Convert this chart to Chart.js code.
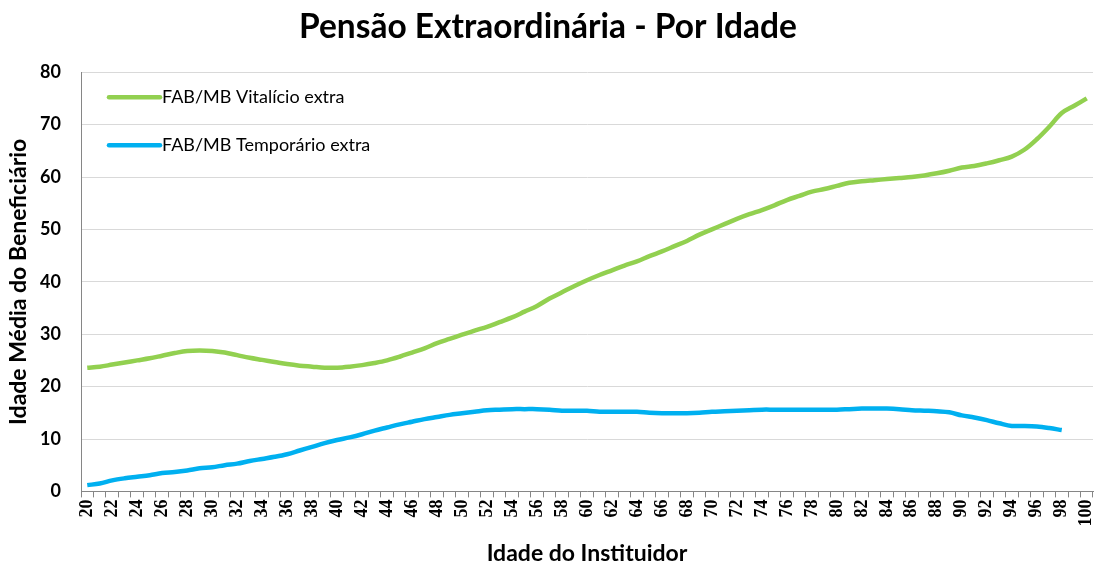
<!DOCTYPE html>
<html>
<head>
<meta charset="utf-8">
<script src="https://cdn.jsdelivr.net/npm/chart.js@4.4.0/dist/chart.umd.min.js"></script>
<style>
  html, body { margin: 0; padding: 0; background: #fff; }
  #wrap { width: 1095px; height: 567px; }
</style>
</head>
<body>
<div id="wrap"><canvas id="chart"></canvas></div>
<script>
// idade do instituidor, 20 a 100
const idades = [];
for (let a = 20; a <= 100; a++) idades.push(String(a));

const vitalicio = [
  23.6, 23.8, 24.2, 24.6, 25.0, 25.4, 25.9, 26.4, 26.8, 26.9,
  26.8, 26.5, 26.0, 25.5, 25.1, 24.7, 24.3, 24.0, 23.8, 23.6,
  23.6, 23.8, 24.1, 24.5, 25.0, 25.7, 26.5, 27.3, 28.3, 29.1,
  29.9, 30.7, 31.4, 32.3, 33.2, 34.3, 35.4, 36.8, 38.0, 39.2,
  40.3, 41.3, 42.2, 43.1, 43.9, 44.9, 45.8, 46.8, 47.8, 49.0,
  50.0, 51.0, 52.0, 52.9, 53.7, 54.6, 55.6, 56.4, 57.2, 57.7,
  58.3, 58.9, 59.2, 59.4, 59.6, 59.8, 60.0, 60.3, 60.7, 61.2,
  61.8, 62.1, 62.6, 63.2, 63.9, 65.2, 67.2, 69.6, 72.2, 73.6,
  75.0
];

const temporario = [
  1.2, 1.5, 2.1, 2.5, 2.8, 3.1, 3.5, 3.7, 4.0, 4.4,
  4.6, 5.0, 5.3, 5.8, 6.2, 6.6, 7.1, 7.8, 8.5, 9.2,
  9.8, 10.3, 10.9, 11.6, 12.2, 12.8, 13.3, 13.8, 14.2, 14.6,
  14.9, 15.2, 15.5, 15.6, 15.7, 15.7, 15.7, 15.6, 15.4, 15.4,
  15.4, 15.2, 15.2, 15.2, 15.2, 15.0, 14.9, 14.9, 14.9, 15.0,
  15.2, 15.3, 15.4, 15.5, 15.6, 15.6, 15.6, 15.6, 15.6, 15.6,
  15.6, 15.7, 15.8, 15.8, 15.8, 15.7, 15.5, 15.4, 15.3, 15.1,
  14.5, 14.1, 13.6, 13.0, 12.5, 12.5, 12.4, 12.1, 11.7, null,
  null
];

const fonte = 'Lato, "Noto Sans", sans-serif';
const fonteTicks = '"Liberation Serif", "DejaVu Serif", serif';

// legenda desenhada dentro da área do gráfico
const legendaInterna = {
  id: 'legendaInterna',
  afterDraw(chart) {
    const ctx = chart.ctx;
    const area = chart.chartArea;
    chart.data.datasets.forEach((ds, i) => {
      const y = area.top + 25 + i * 48;
      ctx.save();
      ctx.strokeStyle = ds.borderColor;
      ctx.lineWidth = 4.5;
      ctx.lineCap = 'round';
      ctx.beginPath();
      ctx.moveTo(area.left + 28, y);
      ctx.lineTo(area.left + 79, y);
      ctx.stroke();
      ctx.fillStyle = '#000';
      ctx.font = '18px ' + fonte;
      ctx.textBaseline = 'middle';
      ctx.fillText(ds.label, area.left + 81, y);
      ctx.restore();
    });
  }
};

new Chart(document.getElementById('chart'), {
  type: 'line',
  data: {
    labels: idades,
    datasets: [
      {
        label: 'FAB/MB Vitalício extra',
        data: vitalicio,
        borderColor: '#92D050',
        borderWidth: 4.5,
        pointRadius: 0,
        tension: 0.35
      },
      {
        label: 'FAB/MB Temporário extra',
        data: temporario,
        borderColor: '#00B0F0',
        borderWidth: 4.5,
        pointRadius: 0,
        tension: 0.35
      }
    ]
  },
  plugins: [legendaInterna],
  options: {
    responsive: true,
    maintainAspectRatio: false,
    animation: false,
    layout: { padding: { left: 3, right: 2, top: 6, bottom: 0 } },
    plugins: {
      legend: { display: false },
      tooltip: { enabled: false },
      title: {
        display: true,
        text: 'Pensão Extraordinária - Por Idade',
        color: '#000',
        font: { family: fonte, size: 33.5, weight: 'bold' },
        padding: { top: 1, bottom: 25 }
      }
    },
    scales: {
      x: {
        offset: true,
        afterFit(scale) {
          scale.paddingRight = 0;
          scale.paddingLeft = 0;
        },
        grid: {
          offset: true,
          drawOnChartArea: false,
          drawTicks: true,
          tickLength: 6,
          color: '#868686'
        },
        border: { color: '#868686' },
        ticks: {
          autoSkip: false,
          minRotation: 90,
          maxRotation: 90,
          padding: 2,
          color: '#000',
          font: { family: fonteTicks, size: 18, weight: 'bold' },
          callback: function (v, i) {
            return i % 2 === 0 ? this.getLabelForValue(v) : '';
          }
        },
        title: {
          display: true,
          text: 'Idade do Instituidor',
          color: '#000',
          font: { family: fonte, size: 23, weight: 'bold' },
          padding: { top: 11, bottom: 0 }
        }
      },
      y: {
        min: 0,
        max: 80,
        afterFit(scale) {
          scale.width = 78;
        },
        grid: { color: '#d9d9d9', drawTicks: false, lineWidth: 1 },
        border: { color: '#868686' },
        ticks: {
          stepSize: 10,
          padding: 20,
          color: '#000',
          font: { family: fonte, size: 18, weight: 'bold' }
        },
        title: {
          display: true,
          text: 'Idade Média do Beneficiário',
          color: '#000',
          font: { family: fonte, size: 23, weight: 'bold' },
          padding: { top: 2, bottom: 2 }
        }
      }
    }
  }
});
</script>
</body>
</html>
